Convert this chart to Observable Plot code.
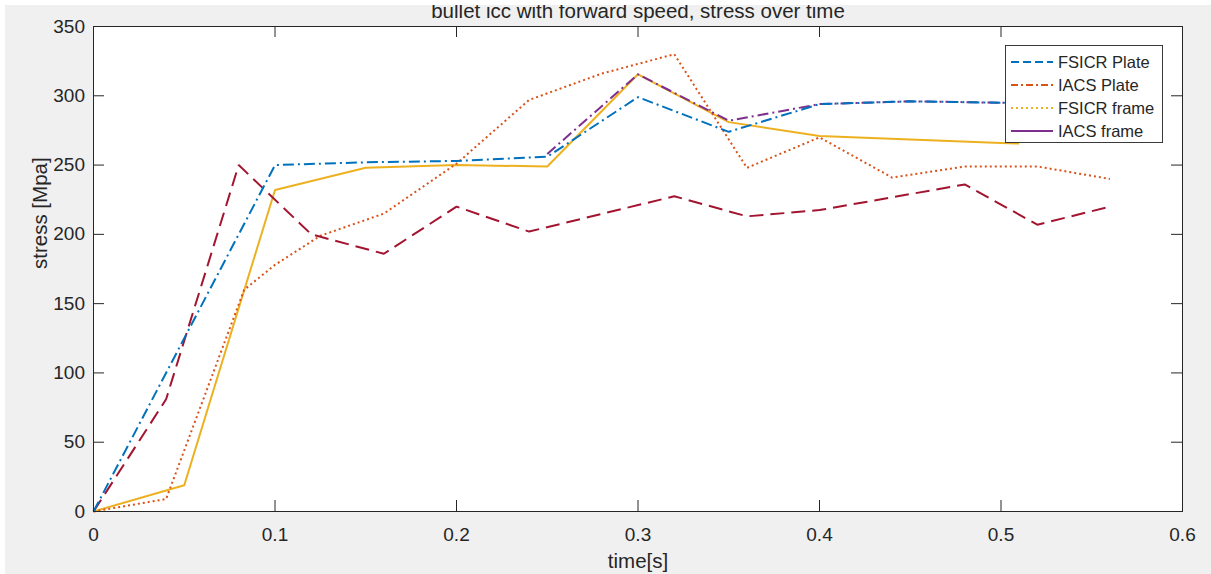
<!DOCTYPE html>
<html><head><meta charset="utf-8">
<script src="https://cdn.jsdelivr.net/npm/d3@7"></script>
<script src="https://cdn.jsdelivr.net/npm/@observablehq/plot@0.6"></script>
<style>
html,body{margin:0;padding:0;background:#fff;}
#wrap{position:relative;width:1211px;height:574px;overflow:hidden;font-family:"Liberation Sans",Arial,Helvetica,sans-serif;}
#bg{position:absolute;left:5px;top:5px;right:0;bottom:0;background:#f0f0f0;}
#chart{position:absolute;left:0;top:0;}
#topstrip{position:absolute;left:0;top:0;width:1211px;height:5px;background:#fff;}
#legend{position:absolute;left:1005px;top:45px;width:158px;height:98px;box-sizing:border-box;background:#fff;border:1px solid #3a3a3a;}
.lrow{position:absolute;left:0;height:22px;width:156px;}
.lrow svg{position:absolute;left:5px;top:0;}
.lrow span{position:absolute;left:52px;top:1px;font-size:16.5px;color:#262626;white-space:nowrap;line-height:20px;}
</style></head>
<body><div id="wrap"><div id="bg"></div><div id="chart"></div><div id="topstrip"></div><div id="legend"></div></div>
<script>
const title = "bullet icc with forward speed, stress over time";
const xLabel = "time[s]";
const yLabel = "stress [Mpa]";
const xTicks = [0, 0.1, 0.2, 0.3, 0.4, 0.5, 0.6];
const yTicks = [0, 50, 100, 150, 200, 250, 300, 350];

// blue dash-dot
const blueT = [0, 0.1, 0.15, 0.2, 0.25, 0.3, 0.35, 0.4, 0.45, 0.5, 0.52];
const blueS = [0, 250, 252, 253, 256, 299, 274, 294, 296, 295, 294];
// dark red dashed
const redT = [0, 0.04, 0.08, 0.12, 0.16, 0.2, 0.24, 0.32, 0.36, 0.4, 0.48, 0.52, 0.56];
const redS = [0, 81, 250, 200, 186, 220, 202, 227.5, 213, 217.5, 236, 207, 220];
// orange dotted
const orangeT = [0, 0.04, 0.083, 0.1, 0.125, 0.16, 0.2, 0.24, 0.28, 0.32, 0.36, 0.4, 0.44, 0.48, 0.52, 0.56];
const orangeS = [0, 9, 160, 178, 199, 215, 251, 297, 316, 330, 248, 270, 241, 249, 249, 240];
// yellow solid
const yellowT = [0, 0.05, 0.1, 0.15, 0.2, 0.25, 0.3, 0.35, 0.4, 0.5, 0.51];
const yellowS = [0, 19, 232, 248, 250, 249, 315.5, 281, 271, 266, 265.5];
// purple dash-dot
const purpleT = [0.25, 0.3, 0.35, 0.4, 0.45, 0.5, 0.52];
const purpleS = [258, 315.5, 282, 294, 296, 295, 294];

const legendLabels = ["FSICR Plate", "IACS Plate", "FSICR frame", "IACS frame"];
const legendColors = ["#0072BD", "#D95319", "#EDB120", "#7E2F8E"];
const legendDashes = ["8,4", "7,3,2,3", "2,3", "none"];

const toRows = (T, S) => T.map((t, i) => ({t, s: S[i]}));
const ink = "#262626";

const lineOpts = (color, dash) => ({x: "t", y: "s", stroke: color, strokeWidth: 2, strokeDasharray: dash, strokeLinejoin: "miter", strokeLinecap: "butt"});

const plot = Plot.plot({
  width: 1211, height: 574,
  marginLeft: 93, marginRight: 29, marginTop: 26, marginBottom: 63,
  style: {background: "transparent", fontFamily: '"Liberation Sans", Arial, Helvetica, sans-serif', fontSize: "19px", color: ink, overflow: "visible"},
  x: {domain: [0, 0.6], label: null},
  y: {domain: [0, 350], label: null},
  marks: [
    Plot.frame({fill: "white", stroke: null}),
    Plot.line(toRows(yellowT, yellowS), lineOpts("#EDB120", null)),
    Plot.line(toRows(orangeT, orangeS), lineOpts("#D95319", "2,3")),
    Plot.line(toRows(redT, redS), lineOpts("#A2142F", "14,7")),
    Plot.line(toRows(purpleT, purpleS), lineOpts("#7E2F8E", "11,4,2,4")),
    Plot.line(toRows(blueT, blueS), lineOpts("#0072BD", "11,4,2,4")),
    Plot.gridX(xTicks, {stroke: ink, strokeOpacity: 1, strokeWidth: 1, insetTop: 474}),
    Plot.gridX(xTicks, {stroke: ink, strokeOpacity: 1, strokeWidth: 1, insetBottom: 474}),
    Plot.gridY(yTicks, {stroke: ink, strokeOpacity: 1, strokeWidth: 1, insetRight: 1078}),
    Plot.gridY(yTicks, {stroke: ink, strokeOpacity: 1, strokeWidth: 1, insetLeft: 1078}),
    Plot.frame({stroke: ink, strokeWidth: 1}),
    Plot.axisX({ticks: xTicks, tickSize: 0, tickPadding: 16, tickFormat: d => String(d), label: null, fontSize: 19, fill: ink}),
    Plot.axisY({ticks: yTicks, tickSize: 0, tickPadding: 8.5, tickFormat: d => String(d), label: null, fontSize: 19, fill: ink}),
    Plot.text([title], {frameAnchor: "top", lineAnchor: "bottom", dy: -9, fontSize: 20.5, fill: ink}),
    Plot.text([xLabel], {frameAnchor: "bottom", lineAnchor: "bottom", dy: 56, fontSize: 20.5, fill: ink}),
    Plot.text([yLabel], {frameAnchor: "left", lineAnchor: "bottom", rotate: -90, dx: -47, fontSize: 20.5, fill: ink})
  ]
});
document.getElementById("chart").appendChild(plot);

const legend = document.getElementById("legend");
const rowTops = [5, 28, 51, 74];
legendLabels.forEach((lab, i) => {
  const row = document.createElement("div");
  row.className = "lrow";
  row.style.top = rowTops[i] + "px";
  const ns = "http://www.w3.org/2000/svg";
  const svg = document.createElementNS(ns, "svg");
  svg.setAttribute("width", 44); svg.setAttribute("height", 22);
  const ln = document.createElementNS(ns, "line");
  ln.setAttribute("x1", 0); ln.setAttribute("x2", 42);
  ln.setAttribute("y1", 11); ln.setAttribute("y2", 11);
  ln.setAttribute("stroke", legendColors[i]);
  ln.setAttribute("stroke-width", 2);
  if (legendDashes[i] !== "none") ln.setAttribute("stroke-dasharray", legendDashes[i]);
  svg.appendChild(ln);
  const sp = document.createElement("span");
  sp.textContent = lab;
  row.appendChild(svg); row.appendChild(sp);
  legend.appendChild(row);
});
</script>
</body></html>
